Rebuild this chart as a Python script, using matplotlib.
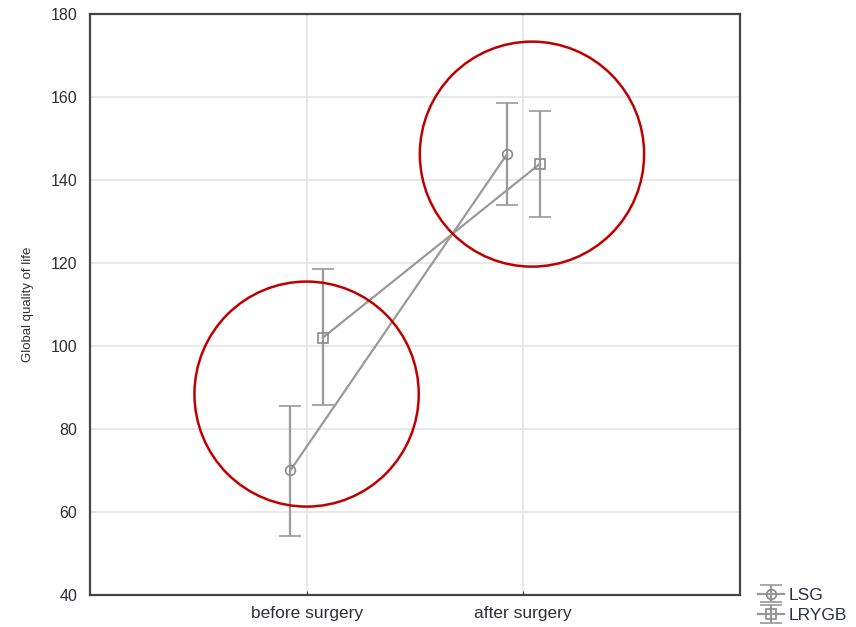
import matplotlib
matplotlib.use("Agg")
import matplotlib.pyplot as plt
from matplotlib.patches import Ellipse
import numpy as np

plt.rcParams['font.family'] = ['Liberation Sans', 'DejaVu Sans']

categories = ["before surgery", "after surgery"]
groups = ["LSG", "LRYGB"]
means = {"LSG": [70.0, 146.2], "LRYGB": [102.0, 143.8]}
upper = {"LSG": [85.6, 158.5], "LRYGB": [118.5, 156.6]}
lower = {"LSG": [54.3, 134.0], "LRYGB": [85.8, 131.0]}
markers = {"LSG": "o", "LRYGB": "s"}
offsets = {"LSG": -0.075, "LRYGB": 0.075}
y_ticks = [40, 60, 80, 100, 120, 140, 160, 180]

# highlight circles (annotation): centers in data coords
circle_centers = [(0.0, 88.4), (1.04, 146.2)]

fig = plt.figure(figsize=(8.56, 6.27), dpi=100)
ax = fig.add_axes([0.105, 0.051, 0.7595, 0.927])

x = np.arange(len(categories))
gray = "#9a9a9a"
for g in groups:
    m = np.array(means[g])
    yerr = np.vstack([m - np.array(lower[g]), np.array(upper[g]) - m])
    ax.errorbar(x + offsets[g], m, yerr=yerr, color=gray, marker=markers[g],
                markersize=7, markerfacecolor="none", markeredgecolor="#8a8a8a",
                markeredgewidth=1.2, linewidth=1.6, elinewidth=1.6,
                capsize=8, capthick=1.6, label=g, zorder=3)

for cx, cy in circle_centers:
    ax.add_patch(Ellipse((cx, cy), width=1.035, height=54.2, fill=False,
                         edgecolor="#c00000", linewidth=1.8, zorder=4))

ax.set_xlim(-1, 2)
ax.set_ylim(40, 180)
ax.set_xticks(x)
ax.set_xticklabels(categories)
ax.set_yticks(y_ticks)
ax.grid(True, color="#e4e4e4", linewidth=1.2, zorder=0)
ax.set_axisbelow(True)
ax.tick_params(axis="y", length=0, labelsize=11.5, pad=9)
ax.tick_params(axis="x", direction="in", length=3, color="#444444", labelsize=12.5, pad=8)
for lab in ax.get_xticklabels() + ax.get_yticklabels():
    lab.set_color("#2e2e38")
for s in ax.spines.values():
    s.set_color("#444444")
    s.set_linewidth(1.6)
ax.set_ylabel("Global quality of life", fontsize=9.5, color="#2e2e38", labelpad=12)

leg = fig.legend(loc="lower left", bbox_to_anchor=(0.886, 0.006), frameon=False,
                 fontsize=12.5, handlelength=1.45, handletextpad=0.3,
                 labelspacing=0.3, borderpad=0.0, borderaxespad=0.0)
for t in leg.get_texts():
    t.set_color("#2e2e44")

fig.savefig("out.png", dpi=100)
